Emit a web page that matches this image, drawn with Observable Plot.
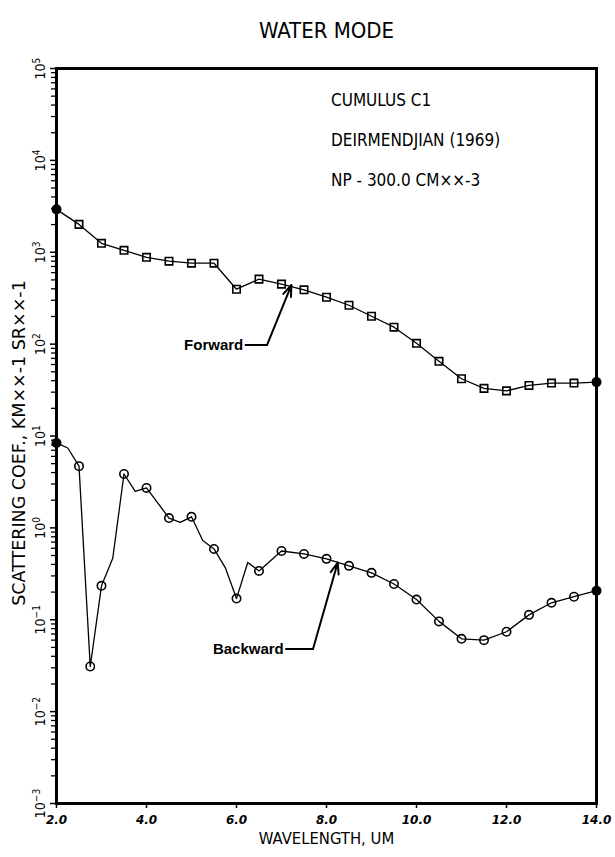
<!DOCTYPE html>
<html>
<head>
<meta charset="utf-8">
<script src="https://cdn.jsdelivr.net/npm/d3@7"></script>
<script src="https://cdn.jsdelivr.net/npm/@observablehq/plot@0.6"></script>
<style>
  html, body { margin: 0; padding: 0; background: #fff; }
</style>
</head>
<body>
<div id="chart"></div>
<script>
// ---- Data ----
const title = "WATER MODE";
const xLabel = "WAVELENGTH, UM";
const yLabel = "SCATTERING COEF., KM\u00d7\u00d7-1 SR\u00d7\u00d7-1";
const infoLines = ["CUMULUS C1", "DEIRMENDJIAN (1969)", "NP - 300.0 CM\u00d7\u00d7-3"];
const infoY = [45000, 16500, 6000];
const infoX = 8.1;

const xTicks = [2, 4, 6, 8, 10, 12, 14];
const yDecades = [-3, -2, -1, 0, 1, 2, 3, 4, 5];

// Forward scattering (square markers), every 0.5 um
const fwdX = [2.0, 2.5, 3.0, 3.5, 4.0, 4.5, 5.0, 5.5, 6.0, 6.5, 7.0, 7.5, 8.0, 8.5, 9.0, 9.5, 10.0, 10.5, 11.0, 11.5, 12.0, 12.5, 13.0, 13.5, 14.0];
const fwdY = [2930, 2010, 1250, 1050, 880, 800, 760, 760, 396, 510, 450, 390, 324, 265, 201, 153, 102, 65, 42, 33, 31, 35.5, 37.7, 37.7, 38.6];

// Backward scattering (circle markers); some line vertices carry no marker
const bwdX = [2.0, 2.25, 2.5, 2.75, 3.0, 3.25, 3.5, 3.75, 4.0, 4.5, 4.75, 5.0, 5.25, 5.5, 5.75, 6.0, 6.25, 6.5, 7.0, 7.5, 8.0, 8.5, 9.0, 9.5, 10.0, 10.5, 11.0, 11.5, 12.0, 12.5, 13.0, 13.5, 14.0];
const bwdY = [8.4, 7.4, 4.7, 0.031, 0.234, 0.466, 3.86, 2.49, 2.72, 1.28, 1.15, 1.32, 0.73, 0.59, 0.37, 0.17, 0.42, 0.34, 0.56, 0.52, 0.46, 0.386, 0.324, 0.245, 0.166, 0.096, 0.062, 0.060, 0.074, 0.113, 0.153, 0.178, 0.207];
const bwdMark = [1, 0, 1, 1, 1, 0, 1, 0, 1, 1, 0, 1, 0, 1, 0, 1, 0, 1, 1, 1, 1, 1, 1, 1, 1, 1, 1, 1, 1, 1, 1, 1, 1];

// Labels with leader arrows
const arrowNames = ["Forward", "Backward"];
const arrowLabelX = [6.15, 7.05];
const arrowLabelY = [98, 0.048];
const arrowElbowX = [6.68, 7.7];
const arrowTipX = [7.22, 8.25];
const arrowTipY = [440, 0.42];

// ---- Build tables ----
const fwd = fwdX.map((x, i) => ({x, y: fwdY[i]}));
const bwd = bwdX.map((x, i) => ({x, y: bwdY[i], m: bwdMark[i]}));
const bwdMarked = bwd.filter(d => d.m && d.x > 2 && d.x < 14);
const fwdMarked = fwd.filter(d => d.x > 2 && d.x < 14);
const ends = [fwd[0], fwd[fwd.length - 1], bwd[0], bwd[bwd.length - 1]];
const arrows = arrowNames.map((name, i) => ({
  name, lx: arrowLabelX[i], ly: arrowLabelY[i], ex: arrowElbowX[i], tx: arrowTipX[i], ty: arrowTipY[i]
}));
const leaders = arrows.flatMap((a, i) => [{k: i, x: a.lx + 0.05, y: a.ly}, {k: i, x: a.ex, y: a.ly}]);

const majorY = yDecades.map(e => Math.pow(10, e));
const minorY = yDecades.slice(0, -1).flatMap(e => d3.range(2, 10).map(m => m * Math.pow(10, e)));
const yTickLabels = yDecades.map(e => ({y: Math.pow(10, e), t: "10|" + e}));

const plotter = "DejaVu Sans Condensed, DejaVu Sans, sans-serif";

const chart = Plot.plot({
  width: 615,
  height: 857,
  marginLeft: 56,
  marginRight: 19,
  marginTop: 68,
  marginBottom: 54,
  style: {fontFamily: plotter, fontSize: "13px", background: "#fff", color: "#000"},
  x: {domain: [2, 14], axis: null},
  y: {type: "log", domain: [1e-3, 1e5], axis: null},
  marks: [
    Plot.axisX({ticks: xTicks, tickSize: 5, tickPadding: 7, tickFormat: d3.format(".1f"), fontWeight: "bold", fontSize: 12, fontStyle: "italic", fontFamily: "DejaVu Sans, sans-serif", strokeWidth: 1.5, label: null}),
    Plot.axisY({ticks: minorY, tickSize: 5, tickFormat: () => "", strokeWidth: 1.3, label: null}),
    Plot.axisY({ticks: majorY, tickSize: 6, tickFormat: () => "", strokeWidth: 1.5, label: null}),
    Plot.text(yTickLabels, {y: "y", text: "t", frameAnchor: "left", dx: -16, rotate: -90, fontSize: 14, textAnchor: "middle", lineAnchor: "middle"}),
    Plot.frame({stroke: "#000", strokeWidth: 3}),
    Plot.line(fwd, {x: "x", y: "y", stroke: "#000", strokeWidth: 1.3}),
    Plot.line(bwd, {x: "x", y: "y", stroke: "#000", strokeWidth: 1.3}),
    Plot.dot(fwdMarked, {x: "x", y: "y", symbol: "square", r: 4.2, stroke: "#000", strokeWidth: 1.6, fill: "none"}),
    Plot.dot(bwdMarked, {x: "x", y: "y", symbol: "circle", r: 4.2, stroke: "#000", strokeWidth: 1.6, fill: "none"}),
    Plot.dot(ends, {x: "x", y: "y", r: 5, fill: "#000"}),
    Plot.line(leaders, {x: "x", y: "y", z: "k", stroke: "#000", strokeWidth: 2}),
    Plot.arrow(arrows, {x1: "ex", y1: "ly", x2: "tx", y2: "ty", stroke: "#000", strokeWidth: 2, headLength: 9, headAngle: 40, bend: 0}),
    Plot.text(arrows, {x: "lx", y: "ly", text: "name", textAnchor: "end", fontWeight: "bold", fontSize: 15, fontFamily: "Liberation Sans, sans-serif"}),
    Plot.text(infoLines.map((t, i) => ({t, y: infoY[i]})), {x: () => infoX, y: "y", text: "t", textAnchor: "start", fontSize: 17}),
    Plot.text([title], {frameAnchor: "top", dy: -46, fontSize: 22}),
    Plot.text([xLabel], {frameAnchor: "bottom", dy: 40, fontSize: 16.5}),
    Plot.text([yLabel], {frameAnchor: "left", dx: -37, dy: 7, rotate: -90, fontSize: 17.5, textAnchor: "middle", fontFamily: "DejaVu Sans, sans-serif"})
  ]
});

// Render "10|e" tick labels as 10 with a raised exponent
d3.select(chart).selectAll("text").each(function () {
  const m = /^10\|(-?\d)$/.exec(this.textContent);
  if (!m) return;
  const sel = d3.select(this);
  sel.text("10");
  sel.append("tspan").attr("dy", "-0.5em").attr("font-size", "0.72em").text(m[1].replace("-", "\u2212"));
});

document.getElementById("chart").appendChild(chart);
</script>
</body>
</html>
